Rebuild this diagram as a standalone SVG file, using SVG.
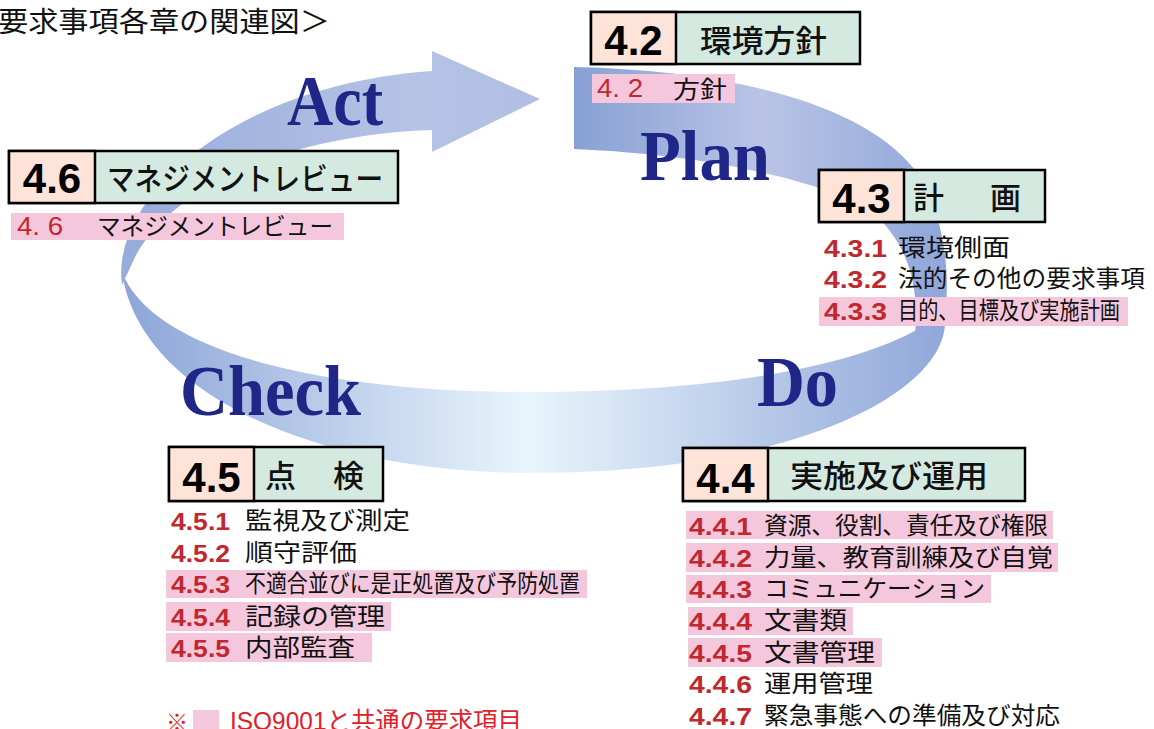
<svg xmlns="http://www.w3.org/2000/svg" width="1154" height="729" viewBox="0 0 1154 729">
<style>
.bn{fill:#fde3d8;stroke:#000;stroke-width:2.5}
.bt{fill:#d4e9df;stroke:#000;stroke-width:2.5}
.hl{fill:#f5c7dc}
.num{font-family:"Liberation Sans",Arial,sans-serif;font-weight:bold;fill:#c1272d;font-size:23px}
.rn{font-family:"Liberation Sans","Noto Sans CJK JP",sans-serif;fill:#c1272d;font-size:25px}
.jp{font-family:"Liberation Sans","Noto Sans CJK JP",sans-serif;fill:#111;font-size:24px}
.jb{font-family:"Liberation Sans","Noto Sans CJK JP",sans-serif;fill:#111;font-size:31px;font-weight:500}
.big{font-family:"Liberation Sans",Arial,sans-serif;font-weight:bold;font-size:42px;fill:#000;text-anchor:middle}
.pdca{font-family:"Liberation Serif","Times New Roman",serif;font-weight:bold;fill:#1f2687;font-size:72px}
</style>
<defs>
<linearGradient id="gAct" gradientUnits="userSpaceOnUse" x1="122" y1="0" x2="540" y2="0">
<stop offset="0" stop-color="#97acdb"/><stop offset="0.7" stop-color="#b5c3e5"/><stop offset="1" stop-color="#b0bee3"/>
</linearGradient>
<linearGradient id="gPlan" gradientUnits="userSpaceOnUse" x1="574" y1="0" x2="950" y2="0">
<stop offset="0" stop-color="#87a0d4"/><stop offset="0.5" stop-color="#b9c4e6"/><stop offset="1" stop-color="#8fa6d9"/>
</linearGradient>
<linearGradient id="gBot" gradientUnits="userSpaceOnUse" x1="122" y1="0" x2="950" y2="0">
<stop offset="0" stop-color="#8ca4d8"/><stop offset="0.49" stop-color="#e9f5fc"/><stop offset="1" stop-color="#8fa6d9"/>
</linearGradient>
</defs>
<rect width="1154" height="729" fill="#fff"/>
<text x="-2" y="32" font-family="Liberation Serif, Noto Sans CJK JP, serif" font-size="28" fill="#111" textLength="332" lengthAdjust="spacingAndGlyphs">要求事項各章の関連図＞</text>

<g id="connectors">
<path d="M945,318 C950,390 800,473 530,473 C330,473 140,400 122,272 C150,345 300,392 530,392 C740,392 880,360 935,318 Z" fill="url(#gBot)"/>
<path d="M574,67 C720,70 860,100 915,170 C945,210 955,290 940,335 L915,335 C920,280 905,240 870,210 C830,185 720,155 574,149 Z" fill="url(#gPlan)"/>
<path d="M122,285 C110,200 230,85 432,71 L432,51 L540,99 L432,152 L432,130 C290,135 175,185 136,255 Z" fill="url(#gAct)"/>
</g>

<g id="pdca-labels">
<text class="pdca" x="287" y="125" textLength="96" lengthAdjust="spacingAndGlyphs">Act</text>
<text class="pdca" x="640" y="180" textLength="130" lengthAdjust="spacingAndGlyphs">Plan</text>
<text class="pdca" x="757" y="406" textLength="81" lengthAdjust="spacingAndGlyphs">Do</text>
<text class="pdca" x="180" y="415" textLength="181" lengthAdjust="spacingAndGlyphs">Check</text>
</g>

<g id="node-4-2">
<rect class="bt" x="591" y="12" width="269" height="52"/>
<rect class="bn" x="591" y="12" width="85" height="52"/>
<text class="big" x="633.5" y="55">4.2</text>
<text class="jb" x="700" y="52" textLength="127" lengthAdjust="spacingAndGlyphs">環境方針</text>
<rect class="hl" x="592" y="74" width="143" height="29"/>
<text class="rn" x="597" y="97" textLength="46" lengthAdjust="spacingAndGlyphs">4. 2</text>
<text class="jp" x="673" y="98" font-size="23" textLength="54" lengthAdjust="spacingAndGlyphs">方針</text>
</g>

<g id="node-4-6">
<rect class="bt" x="9" y="151" width="389" height="52"/>
<rect class="bn" x="9" y="151" width="86" height="52"/>
<text class="big" x="52" y="193">4.6</text>
<text class="jb" x="107" y="190" font-size="29" textLength="276" lengthAdjust="spacingAndGlyphs">マネジメントレビュー</text>
<rect class="hl" x="11" y="213" width="333" height="27"/>
<text class="rn" x="17" y="235" textLength="46" lengthAdjust="spacingAndGlyphs">4. 6</text>
<text class="jp" x="97" y="235" font-size="23" textLength="236" lengthAdjust="spacingAndGlyphs">マネジメントレビュー</text>
</g>

<g id="node-4-3">
<rect class="bt" x="819" y="170" width="226" height="52"/>
<rect class="bn" x="819" y="170" width="85" height="52"/>
<text class="big" x="861.5" y="213">4.3</text>
<text class="jb" x="913" y="209">計</text>
<text class="jb" x="990" y="209">画</text>
<rect class="hl" x="819" y="297" width="309" height="29"/>
<text class="num" x="824" y="257" textLength="63" lengthAdjust="spacingAndGlyphs">4.3.1</text>
<text class="jp" x="898" y="256" textLength="112" lengthAdjust="spacingAndGlyphs">環境側面</text>
<text class="num" x="824" y="288" textLength="63" lengthAdjust="spacingAndGlyphs">4.3.2</text>
<text class="jp" x="898" y="287" textLength="247" lengthAdjust="spacingAndGlyphs">法的その他の要求事項</text>
<text class="num" x="824" y="320" textLength="63" lengthAdjust="spacingAndGlyphs">4.3.3</text>
<text class="jp" x="898" y="319" textLength="222" lengthAdjust="spacingAndGlyphs">目的、目標及び実施計画</text>
</g>

<g id="node-4-4">
<rect class="bt" x="683" y="448" width="342" height="53"/>
<rect class="bn" x="683" y="448" width="85" height="53"/>
<text class="big" x="725.5" y="493">4.4</text>
<text class="jb" x="790" y="487" textLength="198" lengthAdjust="spacingAndGlyphs">実施及び運用</text>
<rect class="hl" x="686" y="511" width="367" height="28"/>
<rect class="hl" x="686" y="543" width="372" height="29"/>
<rect class="hl" x="686" y="575" width="305" height="28"/>
<rect class="hl" x="688" y="607" width="165" height="28"/>
<rect class="hl" x="688" y="638" width="194" height="29"/>
<text class="num" x="689" y="535" textLength="63" lengthAdjust="spacingAndGlyphs">4.4.1</text>
<text class="jp" x="764" y="534" textLength="284" lengthAdjust="spacingAndGlyphs">資源、役割、責任及び権限</text>
<text class="num" x="689" y="567" textLength="63" lengthAdjust="spacingAndGlyphs">4.4.2</text>
<text class="jp" x="764" y="566" textLength="289" lengthAdjust="spacingAndGlyphs">力量、教育訓練及び自覚</text>
<text class="num" x="689" y="598" textLength="63" lengthAdjust="spacingAndGlyphs">4.4.3</text>
<text class="jp" x="764" y="597" textLength="221" lengthAdjust="spacingAndGlyphs">コミュニケーション</text>
<text class="num" x="689" y="630" textLength="63" lengthAdjust="spacingAndGlyphs">4.4.4</text>
<text class="jp" x="764" y="629" textLength="83" lengthAdjust="spacingAndGlyphs">文書類</text>
<text class="num" x="689" y="662" textLength="63" lengthAdjust="spacingAndGlyphs">4.4.5</text>
<text class="jp" x="764" y="661" textLength="111" lengthAdjust="spacingAndGlyphs">文書管理</text>
<text class="num" x="689" y="693" textLength="63" lengthAdjust="spacingAndGlyphs">4.4.6</text>
<text class="jp" x="764" y="692" textLength="109" lengthAdjust="spacingAndGlyphs">運用管理</text>
<text class="num" x="689" y="725" textLength="63" lengthAdjust="spacingAndGlyphs">4.4.7</text>
<text class="jp" x="764" y="724" textLength="296" lengthAdjust="spacingAndGlyphs">緊急事態への準備及び対応</text>
</g>

<g id="node-4-5">
<rect class="bt" x="169" y="447" width="214" height="54"/>
<rect class="bn" x="169" y="447" width="85" height="54"/>
<text class="big" x="211.5" y="492">4.5</text>
<text class="jb" x="265" y="487">点</text>
<text class="jb" x="333" y="487">検</text>
<rect class="hl" x="166" y="570" width="421" height="28"/>
<rect class="hl" x="166" y="602" width="225" height="29"/>
<rect class="hl" x="166" y="633" width="206" height="29"/>
<text class="num" x="171" y="530" textLength="59" lengthAdjust="spacingAndGlyphs">4.5.1</text>
<text class="jp" x="245" y="529" textLength="165" lengthAdjust="spacingAndGlyphs">監視及び測定</text>
<text class="num" x="171" y="562" textLength="59" lengthAdjust="spacingAndGlyphs">4.5.2</text>
<text class="jp" x="245" y="561" textLength="112" lengthAdjust="spacingAndGlyphs">順守評価</text>
<text class="num" x="171" y="593" textLength="59" lengthAdjust="spacingAndGlyphs">4.5.3</text>
<text class="jp" x="245" y="592" textLength="335" lengthAdjust="spacingAndGlyphs">不適合並びに是正処置及び予防処置</text>
<text class="num" x="171" y="626" textLength="59" lengthAdjust="spacingAndGlyphs">4.5.4</text>
<text class="jp" x="245" y="625" textLength="140" lengthAdjust="spacingAndGlyphs">記録の管理</text>
<text class="num" x="171" y="657" textLength="59" lengthAdjust="spacingAndGlyphs">4.5.5</text>
<text class="jp" x="245" y="656" textLength="110" lengthAdjust="spacingAndGlyphs">内部監査</text>
</g>

<g id="legend">
<text x="166" y="730" font-family="Liberation Sans, Noto Sans CJK JP, sans-serif" font-size="22" fill="#e0202a">※</text>
<rect class="hl" x="193" y="710" width="26" height="19"/>
<text x="230" y="730" font-family="Liberation Sans, Noto Sans CJK JP, sans-serif" font-size="25" fill="#e0202a" textLength="292" lengthAdjust="spacingAndGlyphs">ISO9001と共通の要求項目</text>
</g>
</svg>
